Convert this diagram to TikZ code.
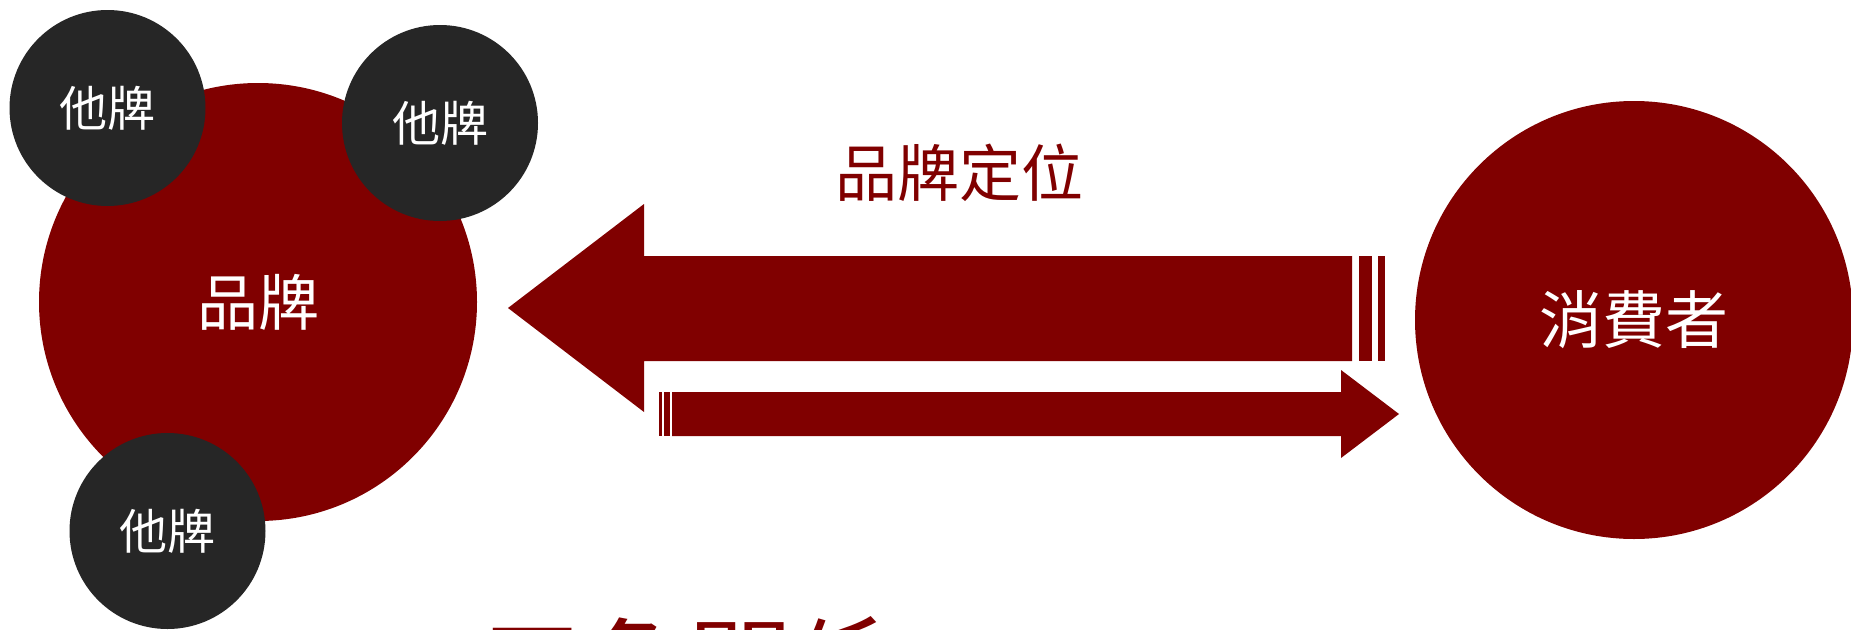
\documentclass[tikz,border=0pt]{standalone}
\usepackage{fontspec}
\newfontfamily\cjk{Noto Sans CJK TC}
\definecolor{brandred}{HTML}{800000}
\definecolor{darkgray}{HTML}{262626}
\newcommand{\up}[1]{\raisebox{4pt}{#1}}
\begin{document}
\begin{tikzpicture}[x=1pt,y=-1pt,
  bigcircle/.style={circle,fill=brandred,draw=none,minimum size=438pt,inner sep=0pt,outer sep=0pt,text=white,font=\cjk\fontsize{61}{61}\selectfont},
  othercircle/.style={circle,fill=darkgray,draw=none,minimum size=196pt,inner sep=0pt,outer sep=0pt,text=white,font=\cjk\fontsize{48}{48}\selectfont},
  blockarrow/.style={fill=brandred,draw=none},
  labeltext/.style={text=brandred,font=\cjk\fontsize{62}{62}\selectfont,inner sep=0pt}]
\useasboundingbox (0,0) rectangle (1851,629);
\begin{scope}
\clip (0,0) rectangle (1851,629);
% main circles
\node[bigcircle] (brand) at (258,302) {\up{品牌}};
\node[bigcircle,font=\cjk\fontsize{63}{63}\selectfont] (consumer) at (1634,320) {\up{消費者}};
% other brands
\node[othercircle] (other1) at (107.5,108) {\raisebox{2pt}{他牌}};
\node[othercircle] (other2) at (440,123) {\raisebox{2pt}{他牌}};
\node[othercircle] (other3) at (167.5,531) {\raisebox{2pt}{他牌}};
% arrow from consumer to brand
\coordinate (lt) at (508,308);
\fill[blockarrow] (lt) -- (644,204) -- (644,256) -- (1352,256) -- (1352,361) -- (644,361) -- (644,412) -- cycle;
\fill[blockarrow] (1359,256) rectangle (1372,361);
\fill[blockarrow] (1378,256) rectangle (1385,361);
% arrow from brand to consumer
\coordinate (rt) at (1399,414);
\fill[blockarrow] (672,392) -- (1341,392) -- (1341,370) -- (rt) -- (1341,458) -- (1341,436) -- (672,436) -- cycle;
\fill[blockarrow] (664,392) rectangle (670,436);
\fill[blockarrow] (659,392) rectangle (662,436);
% label
\node[labeltext] (pos) at (959,173) {品牌定位};
% bottom title (cut off at the lower edge)
\node[labeltext,font=\cjk\fontsize{104}{104}\selectfont,anchor=base] (title) at (688,705) {三角關係};
\end{scope}
\end{tikzpicture}
\end{document}
